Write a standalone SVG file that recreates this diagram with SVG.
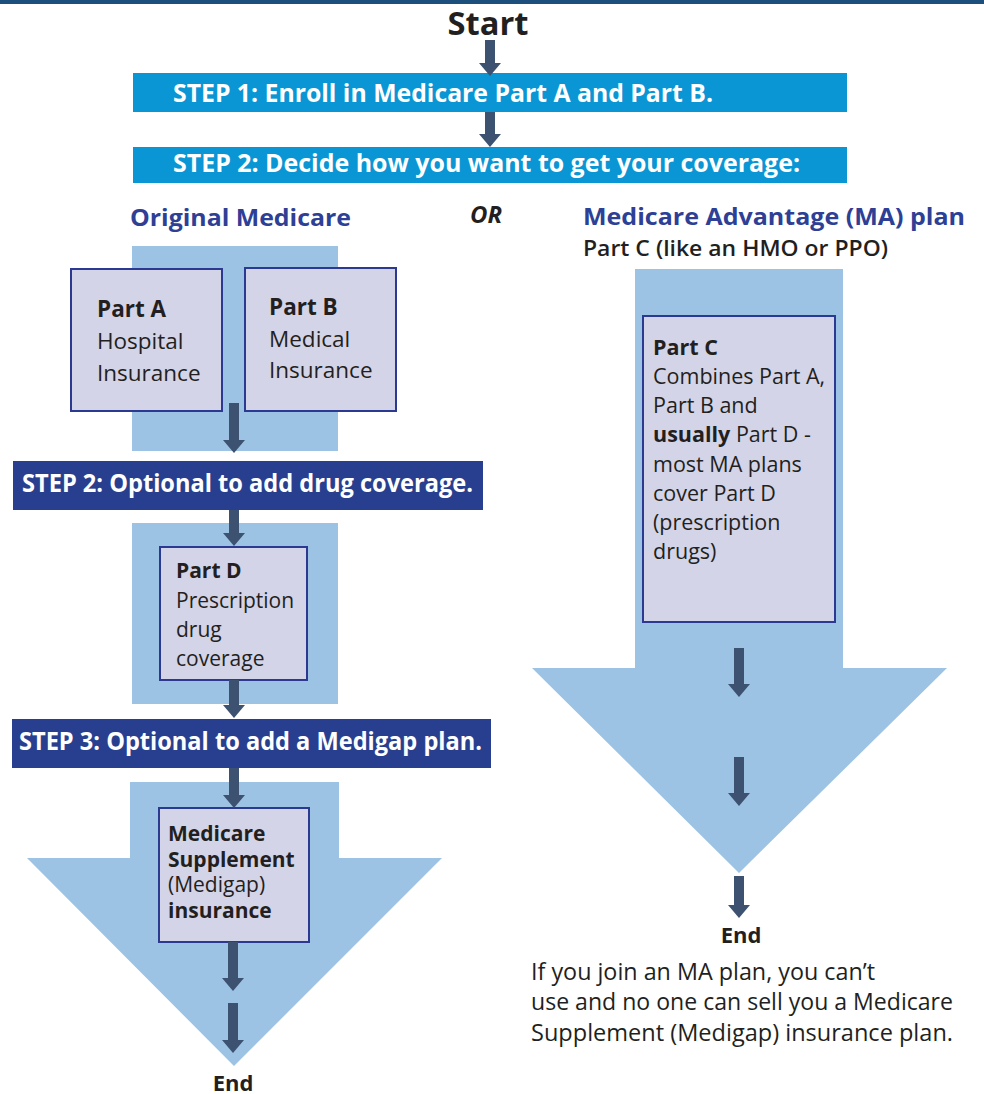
<svg xmlns="http://www.w3.org/2000/svg" width="984" height="1094" viewBox="0 0 984 1094">
<defs>
<marker id="ah" markerUnits="userSpaceOnUse" markerWidth="14" markerHeight="24" viewBox="0 -12 14 24" refX="0" refY="0" orient="auto">
<path d="M0,-11 L13,0 L0,11 Z" fill="#3d5170"/>
</marker>
<style>
text{font-family:"Open Sans","Noto Sans","Liberation Sans",sans-serif;fill:#231f20}
.b{font-weight:700}
.sb{font-weight:600}
.step{font-weight:700;fill:#ffffff;font-size:25px}
.hdr{font-weight:700;fill:#2e3f96;font-size:24px}
.body{font-size:22.5px}
.cyan{fill:#0a96d4}
.navy{fill:#283f8f}
.bg{fill:#9dc3e4}
.box{fill:#d4d4e8;stroke:#2b3990;stroke-width:2}
.arr{stroke:#3d5170;stroke-width:10;fill:none;marker-end:url(#ah)}
</style>
</defs>
<rect x="0" y="0" width="984" height="4" fill="#1d4f7d"/>

<g id="backgrounds">
<rect class="bg" x="132" y="246" width="206" height="205"/>
<rect class="bg" x="132" y="523" width="206" height="181"/>
<polygon class="bg" points="130,782 339,782 339,858 442,858 234,1066 27,858 130,858"/>
<polygon class="bg" points="635,269 843,269 843,668 947,668 739,873 532,668 635,668"/>
</g>

<g id="start"><text class="b" x="488" y="35" font-size="32" text-anchor="middle" textLength="81" lengthAdjust="spacingAndGlyphs">Start</text></g>

<g id="step1">
<rect class="cyan" x="133" y="73" width="714" height="39"/>
<text class="step" x="173" y="102" textLength="540" lengthAdjust="spacingAndGlyphs">STEP 1: Enroll in Medicare Part A and Part B.</text>
</g>
<g id="step2">
<rect class="cyan" x="133" y="147" width="714" height="36"/>
<text class="step" x="173" y="172" textLength="627" lengthAdjust="spacingAndGlyphs">STEP 2: Decide how you want to get your coverage:</text>
</g>

<g id="hdr-original"><text class="hdr" x="130" y="226" textLength="221" lengthAdjust="spacingAndGlyphs">Original Medicare</text></g>
<g id="or"><text class="b" x="470" y="223" font-size="23" font-style="italic" textLength="32" lengthAdjust="spacingAndGlyphs">OR</text></g>
<g id="hdr-ma">
<text class="hdr" x="583" y="225" textLength="382" lengthAdjust="spacingAndGlyphs">Medicare Advantage (MA) plan</text>
<text class="sb" x="583" y="256" font-size="22" textLength="305" lengthAdjust="spacingAndGlyphs">Part C (like an HMO or PPO)</text>
</g>

<g id="partA">
<rect class="box" x="71" y="269" width="151" height="142"/>
<text class="body" x="97" y="317"><tspan class="b">Part A</tspan><tspan x="97" y="349">Hospital</tspan><tspan x="97" y="381">Insurance</tspan></text>
</g>
<g id="partB">
<rect class="box" x="245" y="268" width="151" height="143"/>
<text class="body" x="269" y="315"><tspan class="b">Part B</tspan><tspan x="269" y="347">Medical</tspan><tspan x="269" y="378">Insurance</tspan></text>
</g>

<g id="step2opt">
<rect class="navy" x="13" y="461" width="470" height="49"/>
<text class="step" x="22" y="492" font-size="24" textLength="451" lengthAdjust="spacingAndGlyphs">STEP 2: Optional to add drug coverage.</text>
</g>

<g id="partD">
<rect class="box" x="160" y="547" width="147" height="133"/>
<text font-size="21" x="176" y="578"><tspan class="b">Part D</tspan><tspan x="176" y="608">Prescription</tspan><tspan x="176" y="637">drug</tspan><tspan x="176" y="666">coverage</tspan></text>
</g>

<g id="step3">
<rect class="navy" x="12" y="719" width="479" height="49"/>
<text class="step" x="19" y="750" font-size="24" textLength="463" lengthAdjust="spacingAndGlyphs">STEP 3: Optional to add a Medigap plan.</text>
</g>

<g id="medigap">
<rect class="box" x="159" y="808" width="150" height="134"/>
<text font-size="21" x="168" y="841"><tspan class="b">Medicare</tspan><tspan class="b" x="168" y="867">Supplement</tspan><tspan x="168" y="892">(Medigap)</tspan><tspan class="b" x="168" y="918">insurance</tspan></text>
</g>

<g id="end-left"><text class="b" x="233" y="1091" font-size="22" text-anchor="middle">End</text></g>

<g id="partC">
<rect class="box" x="643" y="316" width="192" height="306"/>
<text font-size="21.5" x="653" y="355"><tspan class="b">Part C</tspan><tspan x="653" y="384">Combines Part A,</tspan><tspan x="653" y="413">Part B and</tspan><tspan x="653" y="442"><tspan class="b">usually</tspan> Part D -</tspan><tspan x="653" y="472">most MA plans</tspan><tspan x="653" y="501">cover Part D</tspan><tspan x="653" y="530">(prescription</tspan><tspan x="653" y="559">drugs)</tspan></text>
</g>

<g id="end-right"><text class="b" x="741" y="943" font-size="22" text-anchor="middle">End</text></g>

<g id="note">
<text font-size="23" x="531" y="980" textLength="344" lengthAdjust="spacingAndGlyphs">If you join an MA plan, you can’t</text>
<text font-size="23" x="531" y="1010" textLength="422" lengthAdjust="spacingAndGlyphs">use and no one can sell you a Medicare</text>
<text font-size="23" x="531" y="1041" textLength="422" lengthAdjust="spacingAndGlyphs">Supplement (Medigap) insurance plan.</text>
</g>

<g id="connectors">
<line class="arr" x1="490" y1="40" x2="490" y2="63"/>
<line class="arr" x1="490" y1="112" x2="490" y2="134"/>
<line class="arr" x1="234" y1="403" x2="234" y2="440"/>
<line class="arr" x1="234" y1="510" x2="234" y2="533"/>
<line class="arr" x1="234" y1="680" x2="234" y2="705"/>
<line class="arr" x1="234" y1="768" x2="234" y2="795"/>
<line class="arr" x1="233" y1="942" x2="233" y2="978"/>
<line class="arr" x1="233" y1="1003" x2="233" y2="1040"/>
<line class="arr" x1="739" y1="648" x2="739" y2="684"/>
<line class="arr" x1="739" y1="757" x2="739" y2="793"/>
<line class="arr" x1="739" y1="876" x2="739" y2="905"/>
</g>
</svg>
